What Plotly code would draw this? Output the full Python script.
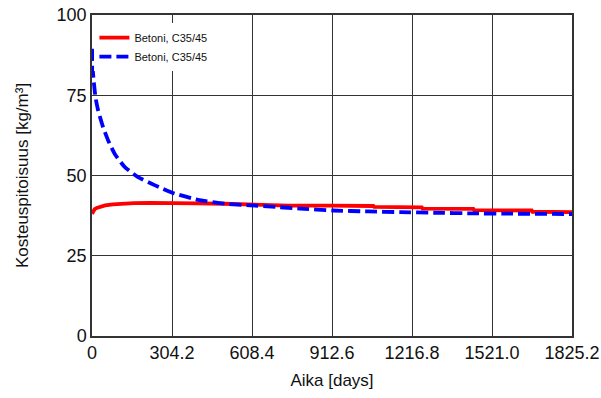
import plotly.graph_objects as go

# Red series (solid)
red_days = [0, 4, 10, 18, 30, 50, 80, 120, 160, 220, 300, 400, 500, 600, 745, 748, 900, 1070, 1073, 1254, 1257, 1450, 1453, 1672, 1675, 1825.2]
red_vals = [38.1, 38.9, 39.5, 39.9, 40.3, 40.7, 41.0, 41.3, 41.4, 41.5, 41.5, 41.3, 41.2, 41.0, 40.9, 40.6, 40.6, 40.5, 40.2, 40.1, 39.7, 39.6, 39.2, 39.1, 38.7, 38.6]

# Blue series (dashed)
blue_days = [0, 4, 13, 23, 42, 61, 86, 124, 175, 238, 314, 403, 505, 601, 700, 791, 917, 1050, 1171, 1300, 1450, 1600, 1825.2]
blue_vals = [89.5, 81.8, 74.5, 70.4, 65.1, 61.0, 56.8, 52.7, 49.5, 47.0, 44.4, 42.4, 41.2, 40.7, 40.2, 39.7, 39.1, 38.8, 38.6, 38.4, 38.2, 38.1, 38.0]

x_ticks = [0, 304.2, 608.4, 912.6, 1216.8, 1521.0, 1825.2]
x_tick_text = ["0", "304.2", "608.4", "912.6", "1216.8", "1521.0", "1825.2"]
y_ticks = [0, 25, 50, 75, 100]

fig = go.Figure()
fig.add_trace(go.Scatter(x=red_days, y=red_vals, mode="lines", name="Betoni, C35/45",
                         line=dict(color="#ff0000", width=3.8)))
fig.add_trace(go.Scatter(x=blue_days, y=blue_vals, mode="lines", name="Betoni, C35/45",
                         line=dict(color="#0000ff", width=3.8, dash="12px,5px", shape="spline", smoothing=0.5)))

fig.update_layout(
    width=601, height=398,
    margin=dict(l=92, r=29, t=15, b=62),
    paper_bgcolor="white", plot_bgcolor="white",
    font=dict(family="Liberation Sans, Arial, sans-serif", color="#111111"),
    showlegend=True,
    legend=dict(x=0.005, y=0.975, xanchor="left", yanchor="top",
                bgcolor="white", borderwidth=0,
                font=dict(size=11, color="#111111"),
                itemwidth=30, tracegroupgap=0),
)
fig.update_xaxes(
    range=[0, 1825.2], tickvals=x_ticks, ticktext=x_tick_text, automargin=False,
    showgrid=True, gridcolor="#333333", gridwidth=1,
    showline=True, linecolor="#333333", linewidth=1.5, mirror=True,
    zeroline=False, ticks="", tickfont=dict(size=18),
    title=dict(text="Aika [days]", font=dict(size=17), standoff=12),
)
fig.update_yaxes(
    range=[0, 100], tickvals=y_ticks, automargin=False,
    showgrid=True, gridcolor="#333333", gridwidth=1,
    showline=True, linecolor="#333333", linewidth=1.5, mirror=True,
    zeroline=False, ticks="", tickfont=dict(size=18),
    title=dict(text="Kosteuspitoisuus [kg/m³]", font=dict(size=17), standoff=24),
)

fig.write_html("out.html")
